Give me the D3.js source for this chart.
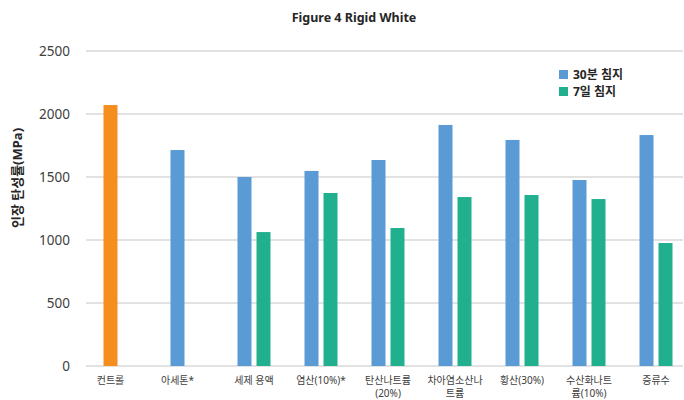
<!DOCTYPE html>
<html>
<head>
<meta charset="utf-8">
<script src="https://cdn.jsdelivr.net/npm/d3@7"></script>
<style>
  html, body { margin: 0; padding: 0; background: #fff; }
  svg { display: block; font-family: "Noto Sans", "Noto Sans CJK KR", sans-serif; }
</style>
</head>
<body>
<svg id="chart" width="684" height="400"></svg>
<script>
// Tensile modulus after immersion in each solution
const categories = [
  ["컨트롤"],
  ["아세톤*"],
  ["세제 용액"],
  ["염산(10%)*"],
  ["탄산나트륨", "(20%)"],
  ["차아염소산나", "트륨"],
  ["황산(30%)"],
  ["수산화나트", "륨(10%)"],
  ["증류수"]
];
const seriesNames = ["30분 침지", "7일 침지"];
const values30min = [2071, 1714, 1500, 1548, 1635, 1913, 1794, 1476, 1833];
const values7day  = [null, null, 1063, 1373, 1095, 1341, 1357, 1325, 976];
const yTicks = [0, 500, 1000, 1500, 2000, 2500];

const colors = { control: "#F68E1F", s30: "#5B9BD5", s7: "#20B08E" };

const svg = d3.select("#chart");
const margin = { left: 86, right: -5, top: 51, bottom: 34 };
const W = 684, H = 400;

const x0 = d3.scaleBand()
  .domain(d3.range(categories.length))
  .range([margin.left, W - margin.right])
  .paddingInner(0).paddingOuter(0);

const x1 = d3.scaleBand()
  .domain([0, 1])
  .range([0, 33])
  .paddingInner(5 / 19).paddingOuter(0);

const y = d3.scaleLinear().domain([0, 2500]).range([H - margin.bottom, margin.top]);

// Gridlines and value axis
const yAxis = d3.axisLeft(y).tickValues(yTicks).tickFormat(d3.format("d")).tickSize(0).tickPadding(16);
const gy = svg.append("g").attr("transform", `translate(${margin.left},0)`).call(yAxis);
gy.select(".domain").remove();
gy.selectAll("text")
  .attr("font-size", 13.5)
  .attr("fill", "#404040")
  .attr("font-family", "'Noto Sans', sans-serif");

svg.append("g").selectAll("line").data(yTicks).join("line")
  .attr("x1", margin.left).attr("x2", 683)
  .attr("y1", d => y(d)).attr("y2", d => y(d))
  .attr("stroke", "#d9d9d9").attr("stroke-width", 1.5);

// Bars
const groupX = i => x0(i) + x0.bandwidth() / 2 - 16;
const bars = [];
categories.forEach((c, i) => {
  if (values30min[i] != null) bars.push({ i, s: 0, v: values30min[i], color: i === 0 ? colors.control : colors.s30 });
  if (values7day[i] != null) bars.push({ i, s: 1, v: values7day[i], color: colors.s7 });
});

svg.append("g").selectAll("rect").data(bars).join("rect")
  .attr("x", d => groupX(d.i) + x1(d.s))
  .attr("y", d => y(d.v))
  .attr("width", x1.bandwidth())
  .attr("height", d => y(0) - y(d.v))
  .attr("fill", d => d.color);

// Category labels: centred under the bars that are present
const labelG = svg.append("g");
categories.forEach((lines, i) => {
  const present = [0, 1].filter(s => (s === 0 ? values30min[i] : values7day[i]) != null);
  const left = groupX(i) + x1(present[0]);
  const right = groupX(i) + x1(present[present.length - 1]) + x1.bandwidth();
  const cx = (left + right) / 2;
  const t = labelG.append("text")
    .attr("x", cx).attr("y", 384)
    .attr("text-anchor", "middle")
    .attr("font-size", 10)
    .attr("fill", "#404040");
  lines.forEach((ln, k) => {
    t.append("tspan").attr("x", cx).attr("dy", k === 0 ? 0 : 13).text(ln);
  });
});

// Title
svg.append("text")
  .attr("x", 354).attr("y", 22)
  .attr("text-anchor", "middle")
  .attr("font-size", 12.5)
  .attr("font-weight", "bold")
  .attr("fill", "#262626")
  .text("Figure 4 Rigid White");

// Axis title
svg.append("text")
  .attr("transform", "translate(22,178) rotate(-90)")
  .attr("text-anchor", "middle")
  .attr("font-size", 13)
  .attr("font-weight", "bold")
  .attr("fill", "#262626")
  .text("인장 탄성률(MPa)");

// Legend
const legend = svg.append("g").attr("transform", "translate(559,70)");
[colors.s30, colors.s7].forEach((c, k) => {
  const g = legend.append("g").attr("transform", `translate(0,${k * 17})`);
  g.append("rect").attr("width", 9).attr("height", 9).attr("fill", c);
  g.append("text").attr("x", 14).attr("y", 9)
    .attr("font-size", 12).attr("font-weight", "bold").attr("fill", "#262626")
    .text(seriesNames[k]);
});
</script>
</body>
</html>
